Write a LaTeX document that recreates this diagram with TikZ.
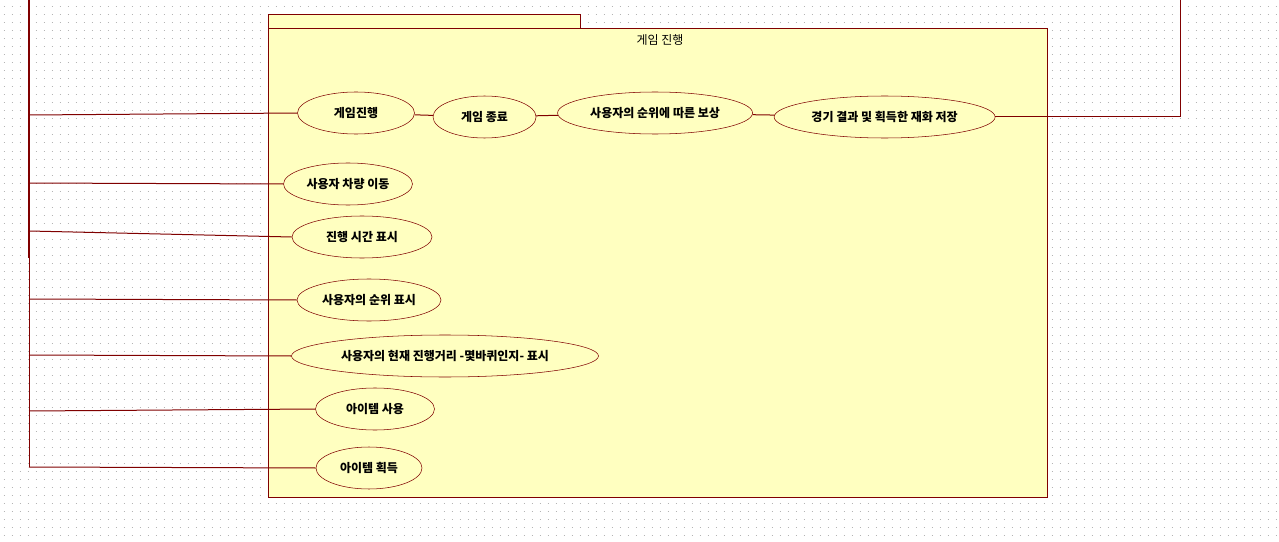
\documentclass[tikz,border=0pt]{standalone}
\usepackage{fontspec}
\setmainfont{Noto Sans CJK KR}
\usetikzlibrary{shapes.geometric, positioning}
\definecolor{ured}{HTML}{800000}
\definecolor{uyellow}{HTML}{FFFFC0}
\definecolor{ugray}{HTML}{B4B4B4}
\tikzstyle{usecase} = [ellipse, draw = ured, fill = uyellow, minimum height = 31.5pt, inner sep = 0pt, text centered, font = \fontsize{9}{10}\selectfont\bfseries]
\tikzstyle{pack} = [draw = ured, fill = uyellow, line width = 0.75pt]
\tikzstyle{link} = [draw = ured, line width = 0.75pt]

\begin{document}
\begin{tikzpicture}[x=0.75pt, y=-0.75pt, node distance = 14pt]
  \useasboundingbox (0,0) rectangle (1279,542);
  % dotted grid
  \foreach \y in {7,15,...,540}
    \draw [ugray, line width = 0.75pt, dash pattern = on 0.75pt off 5.25pt] (3.5,\y) -- (1279,\y);
  % package
  \draw [pack] (268,15) rectangle (580,29);
  \draw [pack] (268,29) rectangle (1047,497);
  \node (title) at (660,40) {\fontsize{9}{10}\selectfont 게임 진행};
  % use cases
  \node (play) [usecase, minimum width = 87.75pt] at (356,113) {게임진행};
  \node (finish) [usecase, minimum width = 77.25pt, right = 13.5pt of play, yshift = -3pt] {게임 종료};
  \node (reward) [usecase, minimum width = 146.25pt, right = 15.75pt of finish, yshift = 3pt] {사용자의 순위에 따른 보상};
  \node (save) [usecase, minimum width = 165.75pt, right = 15.75pt of reward, yshift = -3pt] {경기 결과 및 획득한 재화 저장};
  \node (move) [usecase, minimum width = 96.75pt] at (348,184) {사용자 차량 이동};
  \node (time) [usecase, minimum width = 105pt] at (362,237) {진행 시간 표시};
  \node (rank) [usecase, minimum width = 108pt] at (369,300) {사용자의 순위 표시};
  \node (dist) [usecase, minimum width = 230.25pt] at (445,356) {사용자의 현재 진행거리 -몇바퀴인지- 표시};
  \node (useitem) [usecase, minimum width = 89.25pt] at (375,409) {아이템 사용};
  \node (getitem) [usecase, minimum width = 79.5pt] at (369,468) {아이템 획득};
  % actor bus
  \coordinate (top) at (29,0);
  \coordinate (mid) at (29,258);
  \coordinate (bottom) at (29,467);
  \draw [link, line width = 1.5pt] (top) -- (mid);
  \draw [link] (mid) -- (bottom);
  \draw [link] (29,115) -- (play.west);
  \draw [link] (29,183) -- (move.west);
  \draw [link] (29,231) -- (time.west);
  \draw [link] (29,299) -- (rank.west);
  \draw [link] (29,355) -- (dist.west);
  \draw [link] (29,411) -- (useitem.west);
  \draw [link] (bottom) -- (getitem.west);
  \draw [link] (play) -- (finish);
  \draw [link] (finish) -- (reward);
  \draw [link] (reward) -- (save);
  \coordinate (corner) at (1180,0);
  \draw [link] (save.east) -| (corner);
\end{tikzpicture}
\end{document}
